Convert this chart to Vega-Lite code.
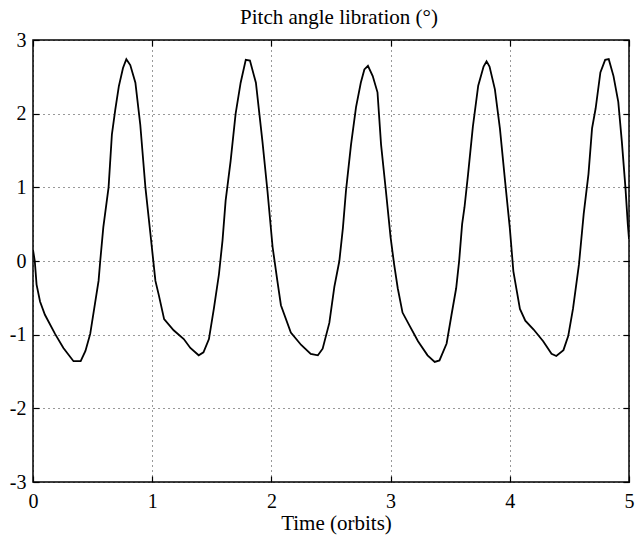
{
  "$schema": "https://vega.github.io/schema/vega-lite/v6.json",
  "autosize": "none",
  "padding": {"left": 33, "top": 40, "right": 6, "bottom": 58},
  "width": 596,
  "height": 442,
  "background": "white",
  "title": {
    "text": "Pitch angle libration (°)",
    "font": "Liberation Serif",
    "fontSize": 21,
    "fontWeight": "normal",
    "color": "black",
    "anchor": "middle",
    "frame": "group",
    "baseline": "bottom",
    "offset": -19,
    "dx": 8
  },
  "data": {
    "values": [
      {"t": 0.0, "p": 0.15}, {"t": 0.015, "p": 0.0}, {"t": 0.03, "p": -0.32}, {"t": 0.059, "p": -0.55},
      {"t": 0.1, "p": -0.73}, {"t": 0.185, "p": -0.99}, {"t": 0.255, "p": -1.18}, {"t": 0.34, "p": -1.36},
      {"t": 0.4, "p": -1.36}, {"t": 0.44, "p": -1.22}, {"t": 0.48, "p": -0.99}, {"t": 0.55, "p": -0.27},
      {"t": 0.564, "p": 0.0}, {"t": 0.59, "p": 0.46}, {"t": 0.634, "p": 1.0}, {"t": 0.662, "p": 1.72},
      {"t": 0.69, "p": 2.05}, {"t": 0.72, "p": 2.37}, {"t": 0.755, "p": 2.62}, {"t": 0.783, "p": 2.74},
      {"t": 0.816, "p": 2.66}, {"t": 0.859, "p": 2.42}, {"t": 0.9, "p": 1.85}, {"t": 0.943, "p": 1.0},
      {"t": 0.985, "p": 0.37}, {"t": 1.027, "p": -0.27}, {"t": 1.055, "p": -0.46}, {"t": 1.1, "p": -0.79},
      {"t": 1.18, "p": -0.94}, {"t": 1.265, "p": -1.06}, {"t": 1.32, "p": -1.18}, {"t": 1.39, "p": -1.28},
      {"t": 1.43, "p": -1.24}, {"t": 1.476, "p": -1.06}, {"t": 1.518, "p": -0.64}, {"t": 1.56, "p": -0.18},
      {"t": 1.59, "p": 0.28}, {"t": 1.616, "p": 0.82}, {"t": 1.658, "p": 1.36}, {"t": 1.7, "p": 2.0},
      {"t": 1.742, "p": 2.42}, {"t": 1.785, "p": 2.73}, {"t": 1.82, "p": 2.72}, {"t": 1.87, "p": 2.42},
      {"t": 1.925, "p": 1.62}, {"t": 1.967, "p": 0.95}, {"t": 2.01, "p": 0.19}, {"t": 2.05, "p": -0.27},
      {"t": 2.08, "p": -0.6}, {"t": 2.163, "p": -0.97}, {"t": 2.25, "p": -1.14}, {"t": 2.33, "p": -1.26},
      {"t": 2.39, "p": -1.28}, {"t": 2.43, "p": -1.19}, {"t": 2.486, "p": -0.84}, {"t": 2.528, "p": -0.35},
      {"t": 2.57, "p": 0.0}, {"t": 2.6, "p": 0.45}, {"t": 2.626, "p": 0.96}, {"t": 2.668, "p": 1.58},
      {"t": 2.71, "p": 2.09}, {"t": 2.75, "p": 2.42}, {"t": 2.78, "p": 2.6}, {"t": 2.81, "p": 2.65},
      {"t": 2.85, "p": 2.51}, {"t": 2.89, "p": 2.29}, {"t": 2.92, "p": 1.58}, {"t": 2.96, "p": 0.96},
      {"t": 3.0, "p": 0.32}, {"t": 3.03, "p": -0.05}, {"t": 3.06, "p": -0.37}, {"t": 3.1, "p": -0.7},
      {"t": 3.16, "p": -0.88}, {"t": 3.23, "p": -1.09}, {"t": 3.31, "p": -1.28}, {"t": 3.37, "p": -1.37},
      {"t": 3.41, "p": -1.35}, {"t": 3.47, "p": -1.12}, {"t": 3.51, "p": -0.74}, {"t": 3.55, "p": -0.37},
      {"t": 3.575, "p": 0.0}, {"t": 3.6, "p": 0.5}, {"t": 3.62, "p": 0.73}, {"t": 3.65, "p": 1.18},
      {"t": 3.69, "p": 1.82}, {"t": 3.735, "p": 2.38}, {"t": 3.78, "p": 2.64}, {"t": 3.805, "p": 2.71},
      {"t": 3.83, "p": 2.64}, {"t": 3.875, "p": 2.33}, {"t": 3.917, "p": 1.8}, {"t": 3.96, "p": 1.09},
      {"t": 4.0, "p": 0.45}, {"t": 4.03, "p": -0.14}, {"t": 4.06, "p": -0.42}, {"t": 4.085, "p": -0.65},
      {"t": 4.13, "p": -0.81}, {"t": 4.2, "p": -0.93}, {"t": 4.28, "p": -1.09}, {"t": 4.35, "p": -1.26},
      {"t": 4.39, "p": -1.29}, {"t": 4.45, "p": -1.21}, {"t": 4.49, "p": -1.02}, {"t": 4.53, "p": -0.65},
      {"t": 4.58, "p": -0.05}, {"t": 4.62, "p": 0.64}, {"t": 4.66, "p": 1.18}, {"t": 4.69, "p": 1.8},
      {"t": 4.72, "p": 2.07}, {"t": 4.76, "p": 2.56}, {"t": 4.8, "p": 2.73}, {"t": 4.83, "p": 2.74},
      {"t": 4.87, "p": 2.51}, {"t": 4.91, "p": 2.16}, {"t": 4.94, "p": 1.62}, {"t": 4.97, "p": 1.0},
      {"t": 4.99, "p": 0.5}, {"t": 5.0, "p": 0.3}
    ]
  },
  "layer": [
    {
      "mark": {"type": "line", "color": "black", "strokeWidth": 1.8, "clip": true},
      "encoding": {
        "x": {
          "field": "t", "type": "quantitative",
          "scale": {"domain": [0, 5], "nice": false, "zero": false},
          "axis": {
            "orient": "bottom",
            "values": [0, 1, 2, 3, 4, 5],
            "title": "Time (orbits)",
            "titleX": 303,
            "titlePadding": 1,
            "labelPadding": 15,
            "labelFlush": false,
            "labelBaseline": "top",
            "labelExpr": "'' + datum.value"
          }
        },
        "y": {
          "field": "p", "type": "quantitative",
          "scale": {"domain": [-3, 3], "nice": false, "zero": false},
          "axis": {
            "orient": "left",
            "values": [-3, -2, -1, 0, 1, 2, 3],
            "title": null,
            "labelPadding": 13,
            "labelFlush": false,
            "labelBaseline": "middle",
            "labelExpr": "'' + datum.value"
          }
        }
      }
    },
    {
      "mark": {"type": "point", "opacity": 0},
      "encoding": {
        "x": {
          "field": "t", "type": "quantitative",
          "axis": {"orient": "top", "values": [0, 1, 2, 3, 4, 5], "labels": false, "grid": false, "title": null, "minExtent": 0, "maxExtent": 0, "labelPadding": 0}
        },
        "y": {
          "field": "p", "type": "quantitative",
          "axis": {"orient": "right", "values": [-3, -2, -1, 0, 1, 2, 3], "labels": false, "grid": false, "title": null, "minExtent": 0, "maxExtent": 0, "labelPadding": 0}
        }
      }
    }
  ],
  "resolve": {"axis": {"x": "independent", "y": "independent"}},
  "config": {
    "view": {"stroke": "black", "strokeWidth": 1.5},
    "axis": {
      "domain": false,
      "grid": true,
      "gridColor": "black",
      "gridDash": [1, 4],
      "gridOpacity": 0.8,
      "gridWidth": 1,
      "ticks": true,
      "tickSize": -6,
      "tickColor": "black",
      "tickWidth": 1.2,
      "labelFont": "Liberation Serif",
      "labelFontSize": 20,
      "labelColor": "black",
      "titleFont": "Liberation Serif",
      "titleFontSize": 21,
      "titleFontWeight": "normal",
      "titleColor": "black"
    }
  }
}
